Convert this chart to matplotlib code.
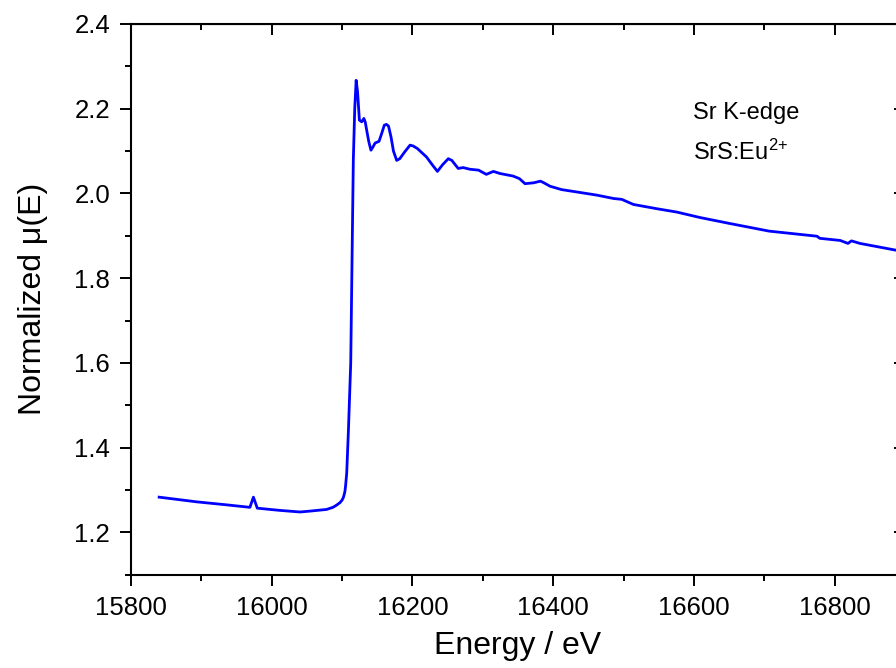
import matplotlib
matplotlib.use("Agg")
import matplotlib.pyplot as plt
from matplotlib.ticker import MultipleLocator

plt.rcParams["font.family"] = ["Liberation Sans", "DejaVu Sans"]
plt.rcParams["mathtext.fontset"] = "custom"
plt.rcParams["mathtext.rm"] = "Liberation Sans"
plt.rcParams["mathtext.it"] = "Liberation Sans:italic"

# Sr K-edge XANES of SrS:Eu2+
energy = [15840, 15893, 15935, 15969, 15974, 15979.5, 16010, 16040, 16054, 16078,
          16087, 16092, 16097, 16100, 16102, 16104, 16105, 16106.6, 16109, 16112.3,
          16114.6, 16116, 16118, 16120, 16122, 16124.6, 16128, 16131, 16133, 16135,
          16138, 16141, 16144, 16147, 16152.5, 16156, 16160, 16163, 16166, 16169.6,
          16173, 16177.6, 16182, 16189, 16196.6, 16201, 16207, 16220, 16228, 16235.5,
          16243, 16251, 16256, 16265, 16272, 16282, 16294, 16305, 16315, 16324.5,
          16343, 16352, 16360, 16372, 16382, 16388, 16395.6, 16412, 16443, 16462,
          16486, 16497.5, 16514, 16547, 16575.7, 16609, 16651, 16707, 16775, 16779,
          16808, 16819, 16824, 16836, 16900]
mu = [1.283, 1.272, 1.265, 1.259, 1.283, 1.257, 1.252, 1.248, 1.250, 1.254,
      1.259, 1.264, 1.270, 1.276, 1.283, 1.296, 1.310, 1.340, 1.440, 1.600,
      1.900, 2.080, 2.200, 2.267, 2.240, 2.173, 2.169, 2.177, 2.168, 2.149,
      2.122, 2.102, 2.110, 2.119, 2.123, 2.140, 2.161, 2.163, 2.159, 2.133,
      2.100, 2.078, 2.082, 2.098, 2.114, 2.112, 2.106, 2.086, 2.068, 2.052,
      2.068, 2.082, 2.078, 2.059, 2.061, 2.057, 2.055, 2.045, 2.052, 2.047,
      2.041, 2.035, 2.023, 2.025, 2.029, 2.024, 2.017, 2.009, 2.001, 1.996,
      1.988, 1.986, 1.974, 1.964, 1.956, 1.943, 1.929, 1.911, 1.899, 1.894,
      1.889, 1.882, 1.888, 1.882, 1.862]

fig = plt.figure(figsize=(8.96, 6.68), dpi=100)
ax = fig.add_axes([0.1462, 0.1397, 0.8638, 0.8244])
ax.plot(energy, mu, color="#0000FF", lw=2.0, solid_joinstyle="round")

ax.set_xlim(15800, 16900)
ax.set_ylim(1.1, 2.4)
ax.xaxis.set_major_locator(MultipleLocator(200))
ax.xaxis.set_minor_locator(MultipleLocator(100))
ax.yaxis.set_major_locator(MultipleLocator(0.2))
ax.yaxis.set_minor_locator(MultipleLocator(0.1))
ax.yaxis.set_major_formatter(matplotlib.ticker.FormatStrFormatter("%.1f"))

for s in ax.spines.values():
    s.set_linewidth(1.5)
ax.tick_params(which="major", direction="out", length=8, width=1.4,
               labelsize=18.5, pad=7)
ax.tick_params(which="minor", direction="out", length=4.3, width=1.4)

# mirrored ticks pointing inward on top and right
top = ax.secondary_xaxis("top")
top.xaxis.set_major_locator(MultipleLocator(200))
top.xaxis.set_minor_locator(MultipleLocator(100))
top.tick_params(which="major", direction="in", length=8, width=1.4, labeltop=False)
top.tick_params(which="minor", direction="in", length=4.3, width=1.4)
right = ax.secondary_yaxis("right")
right.yaxis.set_major_locator(MultipleLocator(0.2))
right.yaxis.set_minor_locator(MultipleLocator(0.1))
right.tick_params(which="major", direction="in", length=8, width=1.4, labelright=False)
right.tick_params(which="minor", direction="in", length=4.3, width=1.4)

ax.set_xlabel("Energy / eV", fontsize=23, labelpad=8)
ax.set_ylabel("Normalized μ(E)", fontsize=23, labelpad=19)

ax.text(16599, 2.175, "Sr K-edge", fontsize=17, ha="left", va="baseline")
ax.text(16599, 2.078, "SrS:Eu$^{2{+}}$", fontsize=17, ha="left", va="baseline")

fig.savefig("out.png", dpi=100)
